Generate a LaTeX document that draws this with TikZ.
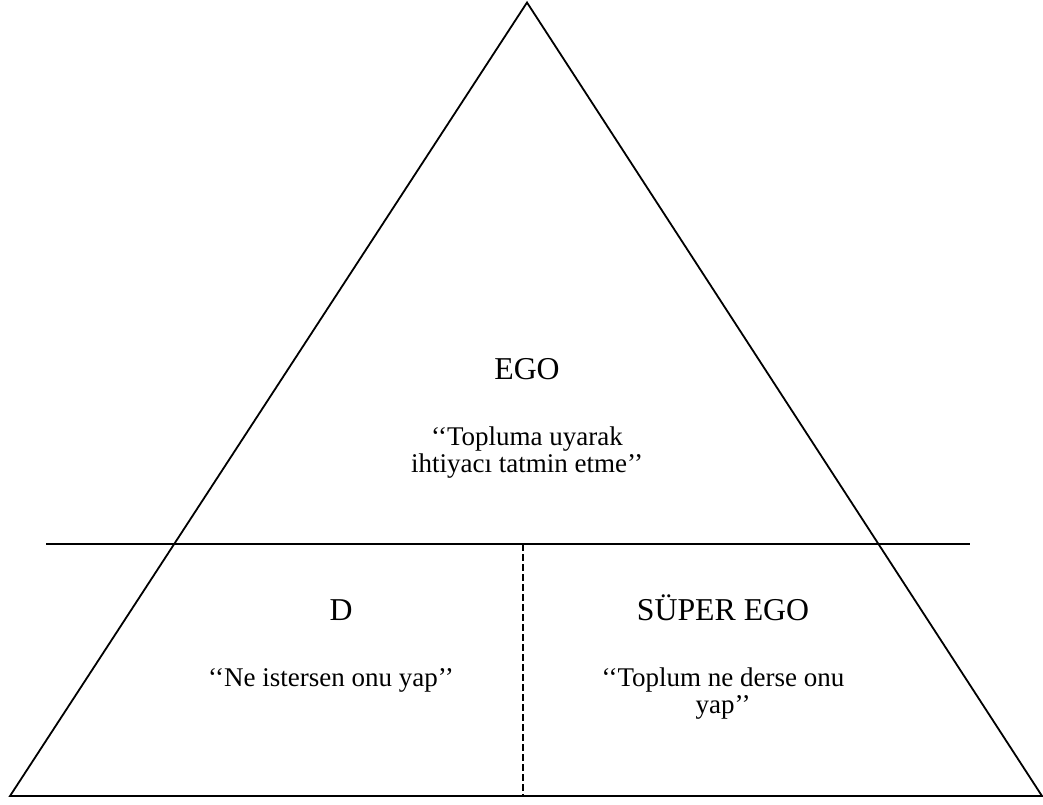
\documentclass[tikz,border=0pt]{standalone}
\usepackage{fontspec}
\setmainfont{Liberation Serif}
\tikzset{
	mydash/.style={dashed, dash pattern=on 6.5pt off 3.5pt},
	heading/.style={anchor=base, font=\fontsize{31.8}{34}\selectfont},
	saying/.style={anchor=base, align=center, font=\fontsize{27}{27.5}\selectfont}
}

\begin{document}
\begin{tikzpicture}[x=1pt, y=-1pt, line width=1.8pt]
	\useasboundingbox (0, 0) rectangle (1043, 804);
	\coordinate (apex) at (527, 2.5);
	\coordinate (bl) at (10, 796);
	\coordinate (br) at (1042, 796);
	\coordinate (ml) at (46, 544);
	\coordinate (mr) at (970, 544);
	\coordinate (dtop) at (523, 544);
	\coordinate (dbot) at (523, 796);
	
	\draw[line join=miter] (bl) -- (apex) -- (br) -- cycle;
	\draw (ml) -- (mr);
	\draw[mydash] (dtop) -- (dbot);
	
	% base of a two-line node sits on its last line
	\node[heading] (ego) at (527, 379) {EGO};
	\node[saying] (egotext) at (527, 472.5) {‘‘Topluma uyarak\\ihtiyacı tatmin etme’’};
	
	\node[heading] (id) at (341, 620) {D};
	\node[saying] (idtext) at (331, 686) {‘‘Ne istersen onu yap’’};
	
	\node[heading] (superego) at (723, 620) {SÜPER EGO};
	\node[saying] (superegotext) at (723, 713.5) {‘‘Toplum ne derse onu\\yap’’};
\end{tikzpicture}
\end{document}
